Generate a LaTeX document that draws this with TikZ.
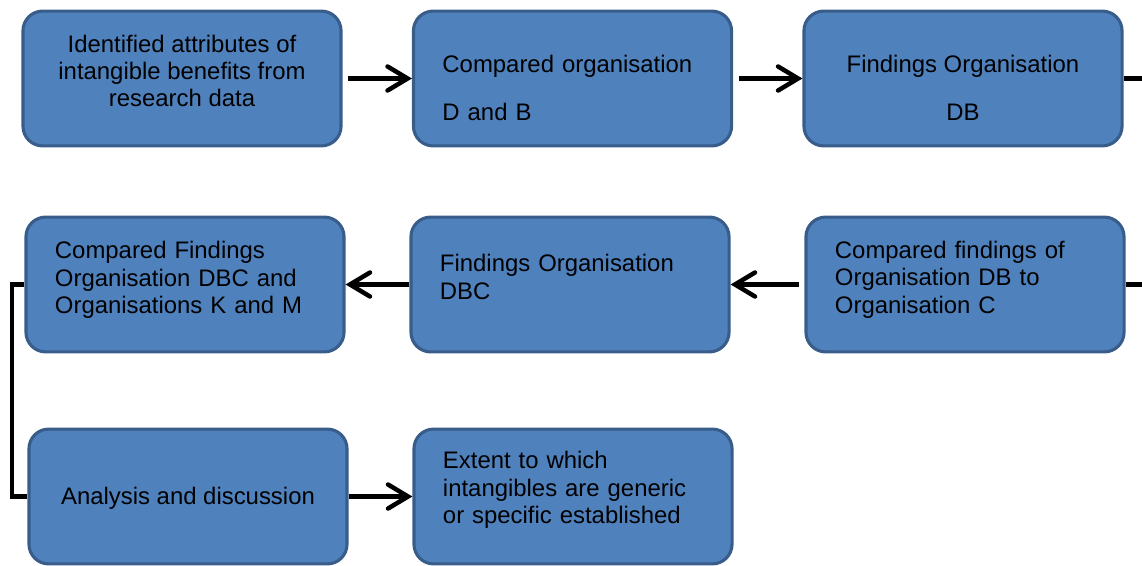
\documentclass[tikz,border=0pt]{standalone}
\usepackage{fontspec}
\setmainfont{Liberation Sans}
\usetikzlibrary{arrows.meta}
\definecolor{boxfill}{HTML}{4F81BD}
\definecolor{boxline}{HTML}{385D8A}
\tikzset{
  box/.style={draw=boxline, fill=boxfill, line width=2.2pt, rounded corners=14pt,
    minimum width=7.95cm, minimum height=3.37cm, inner sep=0pt},
  txt/.style={font=\fontsize{17}{19.5}\selectfont, align=center, inner sep=0pt},
  txtl/.style={font=\fontsize{17}{19.5}\selectfont, align=left, text width=6.5cm, inner sep=0pt},
  arr/.style={line width=3.2pt, -{Straight Barb[length=5mm,width=6mm,line cap=round]}},
  link/.style={line width=3.2pt}
}
\begin{document}
\begin{tikzpicture}[x=0.025cm,y=-0.025cm]
\useasboundingbox (0,0) rectangle (1142,565);

% boxes
\node[box] (b1) at (182,78.5) {};
\node[box] (b2) at (572.5,78.5) {};
\node[box] (b3) at (963,78.5) {};
\node[box] (b4) at (185,284.5) {};
\node[box] (b5) at (570,284.5) {};
\node[box] (b6) at (965,284.5) {};
\node[box] (b7) at (188,496.5) {};
\node[box] (b8) at (573,496.5) {};

% texts
\node[txt] (t1) at (182,71) {Identified attributes of\\intangible benefits from\\research data};
\node[txtl] (t2) at (572.5,88) {Compared organisation\\[14.5pt]D and B};
\node[txt] (t3) at (963,88) {Findings Organisation\\[14.5pt]DB};
\node[txtl] (t4) at (185,280) {Compared Findings\\Organisation DBC and\\Organisations K and M};
\node[txtl] (t5) at (570,277) {Findings Organisation\\DBC};
\node[txtl] (t6) at (965,279.5) {Compared findings of\\Organisation DB to\\Organisation C};
\node[txt] (t7) at (188,498) {Analysis and discussion};
\node[txtl] (t8) at (573,490) {Extent to which\\intangibles are generic\\or specific established};

% connectors
\coordinate (r) at (1148,180);
\coordinate (l) at (12,390);
\draw[arr, shorten <=4pt] (b1.east) -- (b2.west);
\draw[arr, shorten <=4pt] (b2.east) -- (b3.west);
\draw[link] (b3.east) -| (r) |- (b6.east);
\draw[arr, shorten <=4pt] (b6.west) -- (b5.east);
\draw[arr] (b5.west) -- (b4.east);
\draw[link, line join=miter] (b4.west) -| (l) |- (b7.west);
\draw[arr] (b7.east) -- (b8.west);
\end{tikzpicture}
\end{document}
